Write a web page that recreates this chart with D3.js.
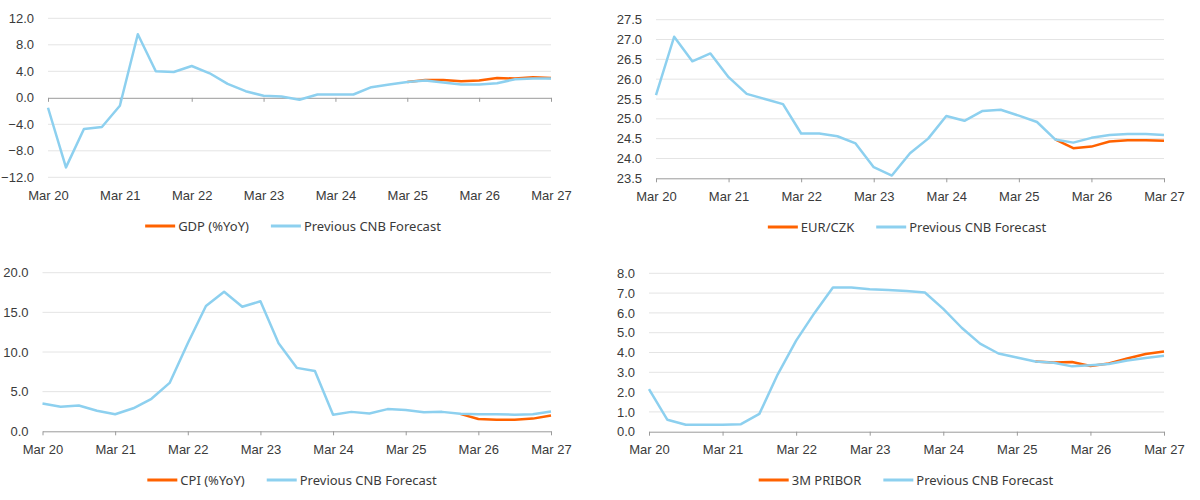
<!DOCTYPE html>
<html>
<head>
<meta charset="utf-8">
<script src="https://cdn.jsdelivr.net/npm/d3@7"></script>
<style>
  body { margin: 0; background: #fff; }
  svg { display: block; font-family: "Noto Sans", sans-serif; }
  .tick text, .legend text { fill: #3a3a3a; font-size: 13px; }
  .grid line { stroke: #e4e4e4; stroke-width: 1; }
  .axis path, .axis line { stroke: #9a9a9a; }
</style>
</head>
<body>
<svg id="chart" width="1200" height="500"></svg>
<script>
// Quarterly points, Mar 20 .. Mar 27
var yearLabels = ['Mar 20', 'Mar 21', 'Mar 22', 'Mar 23', 'Mar 24', 'Mar 25', 'Mar 26', 'Mar 27'];

var gdpPrev = [-1.5, -10.5, -4.7, -4.4, -1.2, 9.6, 4.0, 3.9, 4.8, 3.7, 2.1, 1.0, 0.3, 0.2, -0.3, 0.5,
  0.5, 0.5, 1.6, 2.0, 2.4, 2.6, 2.3, 2.0, 2.0, 2.2, 2.8, 2.9, 2.9];
var gdp = [null, null, null, null, null, null, null, null, null, null, null, null, null, null, null, null,
  null, null, null, null, 2.4, 2.7, 2.7, 2.5, 2.6, 3.0, 2.9, 3.1, 3.0];

var eurczkPrev = [25.6, 27.07, 26.45, 26.65, 26.05, 25.63, 25.5, 25.37, 24.63, 24.63, 24.56, 24.38, 23.78, 23.57, 24.13, 24.5,
  25.07, 24.95, 25.2, 25.23, 25.08, 24.92, 24.48, 24.4, 24.52, 24.59, 24.62, 24.62, 24.59];
var eurczk = [null, null, null, null, null, null, null, null, null, null, null, null, null, null, null, null,
  null, null, null, null, null, null, 24.48, 24.26, 24.3, 24.43, 24.46, 24.46, 24.45];

var cpiPrev = [3.5, 3.1, 3.25, 2.6, 2.15, 2.9, 4.1, 6.1, 11.1, 15.8, 17.6, 15.7, 16.4, 11.1, 8.0, 7.6,
  2.1, 2.45, 2.25, 2.8, 2.7, 2.4, 2.45, 2.2, 2.15, 2.15, 2.1, 2.15, 2.5];
var cpi = [null, null, null, null, null, null, null, null, null, null, null, null, null, null, null, null,
  null, null, null, null, null, null, null, 2.2, 1.55, 1.45, 1.45, 1.6, 2.0];

var priborPrev = [2.15, 0.6, 0.35, 0.35, 0.35, 0.38, 0.9, 2.9, 4.6, 6.0, 7.28, 7.28, 7.2, 7.16, 7.1, 7.03,
  6.2, 5.25, 4.45, 3.95, 3.75, 3.55, 3.48, 3.3, 3.35, 3.42, 3.6, 3.72, 3.83];
var pribor = [null, null, null, null, null, null, null, null, null, null, null, null, null, null, null, null,
  null, null, null, null, null, 3.55, 3.5, 3.52, 3.32, 3.45, 3.7, 3.92, 4.05];

var gdpTicks = [-12, -8, -4, 0, 4, 8, 12];
var eurczkTicks = [23.5, 24, 24.5, 25, 25.5, 26, 26.5, 27, 27.5];
var cpiTicks = [0, 5, 10, 15, 20];
var priborTicks = [0, 1, 2, 3, 4, 5, 6, 7, 8];

var seriesNames = ['GDP (%YoY)', 'EUR/CZK', 'CPI (%YoY)', '3M PRIBOR'];
var prevName = 'Previous CNB Forecast';

var ORANGE = '#ff6200';
var BLUE = '#8dd0ef';

var panels = [
  { left: 48, right: 551, top: 18.3, bottom: 177.3, ticks: gdpTicks, zero: 0,
    actual: gdp, prev: gdpPrev, name: seriesNames[0], legendX: 293, legendY: 226 },
  { left: 656, right: 1164, top: 19.7, bottom: 178.3, ticks: eurczkTicks, zero: null,
    actual: eurczk, prev: eurczkPrev, name: seriesNames[1], legendX: 907, legendY: 227 },
  { left: 42.5, right: 551, top: 272.7, bottom: 431.3, ticks: cpiTicks, zero: null,
    actual: cpi, prev: cpiPrev, name: seriesNames[2], legendX: 292, legendY: 480 },
  { left: 649, right: 1164, top: 273.3, bottom: 431.7, ticks: priborTicks, zero: null,
    actual: pribor, prev: priborPrev, name: seriesNames[3], legendX: 906, legendY: 480 }
];

var svg = d3.select('#chart');

panels.forEach(function(p) {
  var n = p.prev.length;
  var x = d3.scaleLinear().domain([0, n - 1]).range([p.left, p.right]);
  var y = d3.scaleLinear().domain(d3.extent(p.ticks)).range([p.bottom, p.top]);
  var g = svg.append('g');

  // gridlines
  var axisValue = p.zero === null ? y.domain()[0] : p.zero;
  g.append('g').attr('class', 'grid')
    .selectAll('line')
    .data(p.ticks.filter(function(t) { return t !== axisValue; }))
    .enter().append('line')
    .attr('x1', p.left).attr('x2', p.right)
    .attr('y1', function(t) { return y(t); })
    .attr('y2', function(t) { return y(t); });

  // y labels
  g.append('g')
    .attr('transform', 'translate(' + p.left + ',0)')
    .call(d3.axisLeft(y).tickValues(p.ticks).tickSize(0).tickPadding(14).tickFormat(d3.format('.1f')))
    .call(function(a) { a.select('.domain').remove(); });

  var yearIdx = d3.range(0, n, 4);

  // axis line + tick marks
  g.append('g').attr('class', 'axis')
    .attr('transform', 'translate(0,' + y(axisValue) + ')')
    .call(d3.axisBottom(x).tickValues(yearIdx).tickSize(4).tickSizeOuter(0).tickFormat(''));

  // x labels at the bottom
  g.append('g')
    .attr('transform', 'translate(0,' + p.bottom + ')')
    .call(d3.axisBottom(x).tickValues(yearIdx).tickSize(0).tickPadding(13)
      .tickFormat(function(d, i) { return yearLabels[i]; }))
    .call(function(a) { a.select('.domain').remove(); });

  var line = d3.line()
    .defined(function(d) { return d !== null; })
    .x(function(d, i) { return x(i); })
    .y(function(d) { return y(d); });

  g.append('path').datum(p.actual)
    .attr('d', line).attr('fill', 'none')
    .attr('stroke', ORANGE).attr('stroke-width', 2.5).attr('stroke-linejoin', 'round');

  g.append('path').datum(p.prev)
    .attr('d', line).attr('fill', 'none')
    .attr('stroke', BLUE).attr('stroke-width', 2.5).attr('stroke-linejoin', 'round');

  // legend, centred on legendX
  var lg = g.append('g').attr('class', 'legend');
  var items = [{ label: p.name, color: ORANGE }, { label: prevName, color: BLUE }];
  var cursor = 0;
  items.forEach(function(it, i) {
    var item = lg.append('g').attr('transform', 'translate(' + cursor + ',0)');
    item.append('line').attr('x1', 0).attr('x2', 30)
      .attr('y1', 0).attr('y2', 0)
      .attr('stroke', it.color).attr('stroke-width', 3);
    var t = item.append('text').attr('x', 33).attr('dy', '0.35em').text(it.label);
    cursor += 33 + t.node().getComputedTextLength() + 22;
  });
  var total = cursor - 22;
  lg.attr('transform', 'translate(' + (p.legendX - total / 2) + ',' + p.legendY + ')');
});
</script>
</body>
</html>
